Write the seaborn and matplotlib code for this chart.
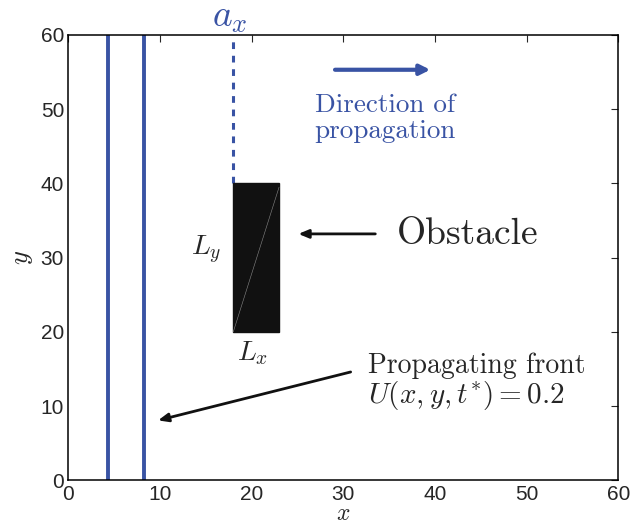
import seaborn as sns
import pandas as pd
import matplotlib.pyplot as plt
from matplotlib.patches import Rectangle

# front positions (x) at t*, obstacle geometry, annotation positions
front_x = [4.3, 8.3]
y_span = [0, 60]
obstacle_x = [18, 23]
obstacle_y = [20, 40]
ax_line_x = 18
ax_line_y = [40, 60]

blue = "#3953a4"

sns.set_style("white")
plt.rcParams["mathtext.fontset"] = "cm"
plt.rcParams["font.family"] = ["Liberation Sans", "DejaVu Sans"]

fronts = pd.DataFrame({
    "x": [fx for fx in front_x for _ in y_span],
    "y": y_span * len(front_x),
    "front": [i for i in range(len(front_x)) for _ in y_span],
})

fig, ax = plt.subplots(figsize=(6.44, 5.28), dpi=100)
fig.subplots_adjust(left=0.106, right=0.96, top=0.934, bottom=0.09)

sns.lineplot(data=fronts, x="x", y="y", units="front", estimator=None,
             sort=False, color=blue, lw=2.8, ax=ax)

# dashed a_x marker
ax.plot([ax_line_x, ax_line_x], ax_line_y, ls=(0, (2.2, 2.2)), color=blue, lw=2.2)

# obstacle
ax.add_patch(Rectangle((obstacle_x[0], obstacle_y[0]), obstacle_x[1] - obstacle_x[0],
                       obstacle_y[1] - obstacle_y[0], facecolor="#111111",
                       edgecolor="#111111", zorder=3))
ax.plot([obstacle_x[0], obstacle_x[1]], [obstacle_y[0], obstacle_y[1] - 0.5],
        color="#888888", lw=0.4, zorder=4)

cm = "cmr10"
ax.text(17.6, 62.4, r"$a_x$", color=blue, fontsize=27, ha="center", va="center",
        clip_on=False)
ax.annotate("", xy=(39.8, 55.3), xytext=(28.8, 55.3),
            arrowprops=dict(arrowstyle="-|>,head_length=0.6,head_width=0.3", color=blue, lw=3))
ax.text(34.6, 48.8, "Direction of\npropagation", color=blue, fontsize=19.5, family=cm,
        ha="center", va="center", linespacing=1.1)

ax.annotate("", xy=(24.8, 33.2), xytext=(33.8, 33.2),
            arrowprops=dict(arrowstyle="-|>,head_length=0.6,head_width=0.25", color="#111111", lw=2))
ax.text(35.9, 33.2, "Obstacle", fontsize=27, family=cm, ha="left", va="center")

ax.text(15.0, 31.0, r"$L_y$", fontsize=20, ha="center", va="center")
ax.text(20.1, 17.1, r"$L_x$", fontsize=20, ha="center", va="center")

ax.annotate("", xy=(9.5, 8.0), xytext=(31.1, 14.7),
            arrowprops=dict(arrowstyle="-|>,head_length=0.6,head_width=0.25", color="#111111", lw=2))
ax.text(32.7, 15.4, "Propagating front", fontsize=20, family=cm, ha="left", va="center")
ax.text(32.7, 11.5, r"$U(x,y,t^{*})=0.2$", fontsize=21, ha="left", va="center")

ax.set_xlim(0, 60)
ax.set_ylim(0, 60)
ax.set_xticks(range(0, 61, 10))
ax.set_yticks(range(0, 61, 10))
ax.tick_params(direction="in", top=True, right=True, length=5, width=0.8,
               labelsize=15)
ax.tick_params(axis="x", pad=3)
ax.tick_params(axis="y", pad=3)
for s in ax.spines.values():
    s.set_color("black")
    s.set_linewidth(1.1)
ax.set_xlabel(r"$x$", fontsize=17, labelpad=-0.5)
ax.set_ylabel(r"$y$", fontsize=19, labelpad=4)

fig.savefig("out.png", dpi=100)
